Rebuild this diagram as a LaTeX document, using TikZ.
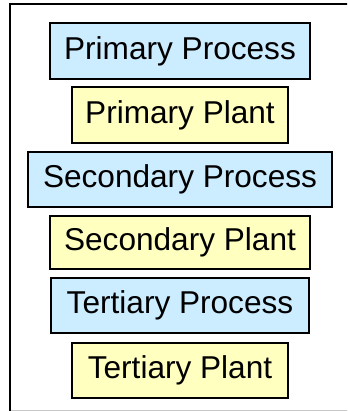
\documentclass[tikz,border=0pt]{standalone}
\usepackage{fontspec}
\setmainfont{Liberation Sans}
\definecolor{procblue}{HTML}{CCECFF}
\definecolor{plantyellow}{HTML}{FFFFC0}
\definecolor{framegray}{HTML}{C8C8C8}
\begin{document}
\begin{tikzpicture}[x=1pt,y=-1pt,
  box/.style={draw=black,line width=1.6pt,inner sep=0pt,font=\fontsize{31.6}{36}\selectfont,text=black},
  proc/.style={box,fill=procblue},
  plant/.style={box,fill=plantyellow}]
\useasboundingbox (0,0) rectangle (347,411);
\begin{scope}
\clip (0,0) rectangle (347,411);
\coordinate (tl) at (10,4.5);
\coordinate (tr) at (360,4.5);
\coordinate (bl) at (10,410.5);
\coordinate (br) at (360,410.5);
\draw[framegray,line width=1.2pt] (bl) -- (br);
\draw[black,line width=2pt] (tr) -- (tl) -- (bl);
\end{scope}
\node[proc,minimum width=260pt,minimum height=56pt] (pp) at (180,51) {Primary Process};
\node[plant,minimum width=216pt,minimum height=56pt] (pl) at (180,115) {Primary Plant};
\node[proc,minimum width=304pt,minimum height=55pt] (sp) at (180,179.5) {Secondary Process};
\node[plant,minimum width=260pt,minimum height=53pt] (sl) at (180,242.5) {Secondary Plant};
\node[proc,minimum width=258pt,minimum height=55pt] (tp) at (180,305.5) {Tertiary Process};
\node[plant,minimum width=216pt,minimum height=55pt] (tl2) at (180,370.5) {Tertiary Plant};
\end{tikzpicture}
\end{document}
